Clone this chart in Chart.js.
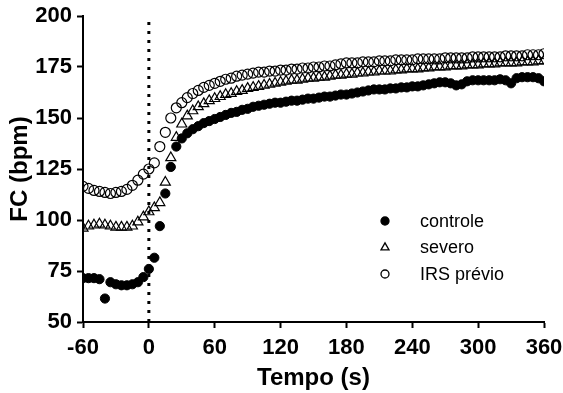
<!DOCTYPE html>
<html>
<head>
<meta charset="utf-8">
<script src="https://cdn.jsdelivr.net/npm/chart.js@4.4.0/dist/chart.umd.min.js"></script>
<style>
  html, body { margin: 0; padding: 0; background: #fff; }
  #wrap { width: 563px; height: 393px; }
</style>
</head>
<body>
<div id="wrap"><canvas id="fcChart" width="563" height="393"></canvas></div>
<script>
// time points (s)
const tempo = [-60,-55,-50,-45,-40,-35,-30,-25,-20,-15,-10,-5,0,5,10,15,20,25,
  30,35,40,45,50,55,60,65,70,75,80,85,90,95,100,105,110,115,120,125,130,135,140,145,
  150,155,160,165,170,175,180,185,190,195,200,205,210,215,220,225,230,235,240,245,
  250,255,260,265,270,275,280,285,290,295,300,305,310,315,320,325,330,335,340,345,
  350,355,360];

const controle = [71.5,71.5,71.5,71,61.5,69.5,68.5,68,68,68.5,69.5,72,
  76,81.5,97,113,126,136,
  140,142.5,144.5,146,147.5,148.5,149.5,150.5,151.5,152.5,
  153,154,154.5,155.5,156,156.5,157,157.5,157.5,158,
  158.5,158.5,159,159.5,159.5,160,160.5,160.5,161,161.5,
  161.5,162,162.5,163,163.5,164,164,164,164.5,164.5,
  165,165,165.5,165.5,166,166.5,167,167.5,167.5,167,
  166,166.5,168,168.5,168.5,168.5,168.5,168.5,169,168.5,
  167,169.5,170,170,170,169.5,168];

const severo = [96,97,97.5,98,97.5,97,96.5,96.5,96.5,97,99,101.5,
  104,106,108.5,118.5,130.5,140.5,
  147,151,153.5,155.5,157,158.5,159.5,160.5,161.5,162,
  163,163.5,164.5,165,165.5,166,166.5,167,167.5,168,
  168.5,168.5,169,169.5,169.5,170,170,170.5,171,171,
  171.5,171.5,172,172,172.5,172.5,173,173,173,173.5,
  173.5,174,174,174,174.5,174.5,175,175,175,175.5,
  175.5,175.5,176,176,176,176.5,176.5,176.5,177,177,
  177,177,177.5,177.5,177.5,178,178];

const irsPrevio = [116.5,115.5,114.5,114,113.5,113,113.5,114,115,117,119.5,122.5,
  125,128,136,143,150,155,
  157.5,160,162,163.5,165,166,167,168,169,169.5,
  170.5,171,171.5,172,172.5,172.5,173,173,173.5,173.5,
  174,174,174.5,174.5,175,175,175.5,175.5,176,176.5,
  177,177,177,177.5,177.5,177.5,178,178,178,178.5,
  178.5,178.5,178.5,179,179,179,179,179,179.5,179.5,
  179.5,179.5,179.5,180,180,180,180,180,180,180.5,
  180.5,180.5,180.5,181,181,181,181.5];

const xTicks = [-60, 0, 60, 120, 180, 240, 300, 360];
const yTicks = [50, 75, 100, 125, 150, 175, 200];
const seriesNames = ['controle', 'severo', 'IRS prévio'];

const pts = arr => arr.map((v, i) => ({ x: tempo[i], y: v }));

// small legend drawn inside the plot, right side
const innerLegend = {
  id: 'innerLegend',
  afterDraw(chart) {
    const ctx = chart.ctx;
    const rows = [
      { style: 'circle', fill: '#000', r: 4 },
      { style: 'triangle', fill: '#fff', r: 4.6 },
      { style: 'circle', fill: '#fff', r: 4 }
    ];
    ctx.save();
    ctx.font = '18px "Liberation Sans", Arial, sans-serif';
    ctx.textBaseline = 'middle';
    rows.forEach((row, i) => {
      const y = 221 + i * 26.5;
      ctx.fillStyle = row.fill;
      ctx.strokeStyle = '#000';
      ctx.lineWidth = 1.3;
      Chart.helpers.drawPoint(ctx, {
        pointStyle: row.style, radius: row.r, borderWidth: 1.3, rotation: 0
      }, 385, y);
      ctx.fillStyle = '#000';
      ctx.fillText(seriesNames[i], 420, y + 1);
    });
    ctx.restore();
  }
};

const tickFont = { family: '"Liberation Sans", Arial, sans-serif', size: 22, weight: 'bold' };
const titleFont = { family: '"Liberation Sans", Arial, sans-serif', size: 24, weight: 'bold' };

new Chart(document.getElementById('fcChart'), {
  type: 'scatter',
  data: {
    datasets: [
      {
        label: 'zero',
        data: [{ x: 0, y: 50 }, { x: 0, y: 200 }],
        showLine: true,
        borderColor: '#000',
        borderWidth: 3,
        borderDash: [3, 6],
        pointRadius: 0
      },
      {
        label: seriesNames[0],
        data: pts(controle),
        pointStyle: 'circle',
        pointRadius: 4.6,
        pointBorderWidth: 1,
        pointBackgroundColor: '#000',
        pointBorderColor: '#000'
      },
      {
        label: seriesNames[1],
        data: pts(severo),
        pointStyle: 'triangle',
        pointRadius: 5.8,
        pointBorderWidth: 1.2,
        pointBackgroundColor: 'rgba(0,0,0,0)',
        pointBorderColor: '#000'
      },
      {
        label: seriesNames[2],
        data: pts(irsPrevio),
        pointStyle: 'circle',
        pointRadius: 5,
        pointBorderWidth: 1.2,
        pointBackgroundColor: 'rgba(0,0,0,0)',
        pointBorderColor: '#000'
      }
    ]
  },
  options: {
    responsive: false,
    animation: false,
    devicePixelRatio: 1,
    layout: { padding: { top: 16, right: 19, left: 0, bottom: 0 } },
    plugins: {
      legend: { display: false },
      tooltip: { enabled: false }
    },
    scales: {
      x: {
        type: 'linear',
        min: -60,
        max: 360,
        afterBuildTicks: s => { s.ticks = xTicks.map(v => ({ value: v })); },
        afterFit: s => { s.height = 71; s.paddingLeft = 0; s.paddingRight = 0; },
        ticks: { color: '#000', font: tickFont, padding: 7, maxRotation: 0 },
        grid: { drawOnChartArea: false, tickLength: 6, tickWidth: 2, tickColor: '#000' },
        border: { color: '#000', width: 2 },
        title: { display: true, text: 'Tempo (s)', color: '#000', font: titleFont, padding: { top: 0, bottom: 0 } }
      },
      y: {
        min: 50,
        max: 200,
        afterBuildTicks: s => { s.ticks = yTicks.map(v => ({ value: v })); },
        afterFit: s => { s.width = 83; s.paddingTop = 0; s.paddingBottom = 0; },
        ticks: { color: '#000', font: tickFont, padding: 5 },
        grid: { drawOnChartArea: false, tickLength: 6, tickWidth: 2, tickColor: '#000' },
        border: { color: '#000', width: 2 },
        title: { display: true, text: 'FC (bpm)', color: '#000', font: titleFont, padding: { top: 6, bottom: 0 } }
      }
    }
  },
  plugins: [innerLegend]
});
</script>
</body>
</html>
